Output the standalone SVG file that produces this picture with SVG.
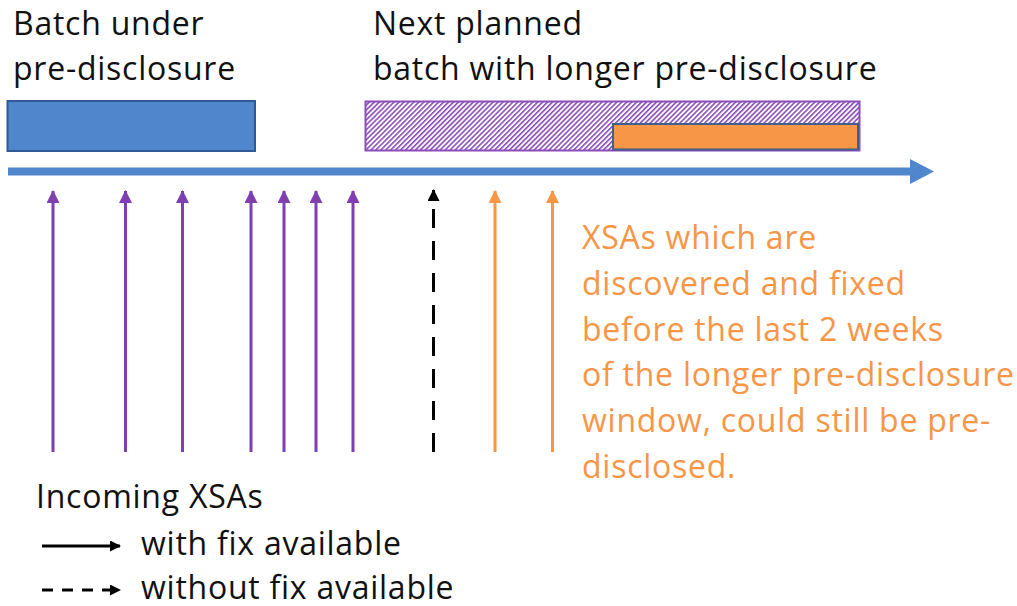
<svg xmlns="http://www.w3.org/2000/svg" width="1017" height="606" viewBox="0 0 1017 606">
  <style>
    text { font-family: "Open Sans", "Liberation Sans", sans-serif; font-size: 32px; letter-spacing: 0.75px; }
    .dark { fill: #111111; }
    .note { fill: #F79646; }
    .xsa { stroke-width: 3; fill: none; }
    .purple { stroke: #7F3FB0; }
    .orange { stroke: #F79646; }
    .black { stroke: #000000; }
  </style>
  <defs>
    <pattern id="hatch" patternUnits="userSpaceOnUse" width="3.5" height="3.5" patternTransform="rotate(45)">
      <rect width="3.5" height="3.5" fill="#FFFFFF"/>
      <rect x="0" y="0" width="1.6" height="3.5" fill="#8B4DB8"/>
    </pattern>
    <marker id="headPurple" markerUnits="userSpaceOnUse" markerWidth="13" markerHeight="13" refX="6.5" refY="1" viewBox="0 0 13 13">
      <path d="M0,13 L6.5,0 L13,13 Z" fill="#7F3FB0"/>
    </marker>
    <marker id="headOrange" markerUnits="userSpaceOnUse" markerWidth="13" markerHeight="13" refX="6.5" refY="1" viewBox="0 0 13 13">
      <path d="M0,13 L6.5,0 L13,13 Z" fill="#F79646"/>
    </marker>
    <marker id="headBlack" markerUnits="userSpaceOnUse" markerWidth="12" markerHeight="12" refX="6" refY="1" viewBox="0 0 12 12">
      <path d="M0,12 L6,0 L12,12 Z" fill="#000000"/>
    </marker>
    <marker id="headLegend" markerUnits="userSpaceOnUse" markerWidth="11" markerHeight="11" refX="10" refY="5.5" orient="auto" viewBox="0 0 11 11">
      <path d="M0,0 L11,5.5 L0,11 Z" fill="#000000"/>
    </marker>
  </defs>

  <!-- current batch under pre-disclosure -->
  <g id="batch-current">
    <rect x="7.5" y="101" width="247.5" height="50" fill="#4F86CC" stroke="#2F5A98" stroke-width="2"/>
    <text class="dark" x="13" y="35">Batch under</text>
    <text class="dark" x="13" y="80">pre-disclosure</text>
  </g>

  <!-- next batch with the longer window -->
  <g id="batch-next">
    <rect x="365.5" y="101.5" width="494" height="49" fill="url(#hatch)" stroke="#8B4DB8" stroke-width="2"/>
    <text class="dark" x="373" y="35">Next planned</text>
    <text class="dark" x="373" y="80">batch with longer pre-disclosure</text>
  </g>

  <!-- last two weeks of the longer window -->
  <g id="final-window">
    <rect x="613" y="124" width="245" height="25.5" fill="#F79646" stroke="#3F5F8F" stroke-width="2"/>
  </g>

  <!-- time axis -->
  <g id="timeline">
    <path d="M8,167.5 H910 V159 L934,171.5 L910,184 V175.5 H8 Z" fill="#4F86CC"/>
  </g>

  <!-- incoming XSAs -->
  <g id="connectors">
    <line class="xsa purple" x1="53" y1="452" x2="53" y2="191" marker-end="url(#headPurple)"/>
    <line class="xsa purple" x1="125.5" y1="452" x2="125.5" y2="191" marker-end="url(#headPurple)"/>
    <line class="xsa purple" x1="182.5" y1="452" x2="182.5" y2="191" marker-end="url(#headPurple)"/>
    <line class="xsa purple" x1="251" y1="452" x2="251" y2="191" marker-end="url(#headPurple)"/>
    <line class="xsa purple" x1="284" y1="452" x2="284" y2="191" marker-end="url(#headPurple)"/>
    <line class="xsa purple" x1="316" y1="452" x2="316" y2="191" marker-end="url(#headPurple)"/>
    <line class="xsa purple" x1="353" y1="452" x2="353" y2="191" marker-end="url(#headPurple)"/>
    <line class="xsa black" x1="433.5" y1="452" x2="433.5" y2="190" stroke-dasharray="19 13" marker-end="url(#headBlack)"/>
    <line class="xsa orange" x1="495" y1="452" x2="495" y2="191" marker-end="url(#headOrange)"/>
    <line class="xsa orange" x1="552.5" y1="452" x2="552.5" y2="191" marker-end="url(#headOrange)"/>
  </g>

  <!-- explanatory note -->
  <g id="note">
    <text class="note" x="582" y="249">XSAs which are</text>
    <text class="note" x="582" y="295">discovered and fixed</text>
    <text class="note" x="582" y="341">before the last 2 weeks</text>
    <text class="note" x="582" y="386">of the longer pre-disclosure</text>
    <text class="note" x="582" y="432">window, could still be pre-</text>
    <text class="note" x="582" y="478">disclosed.</text>
  </g>

  <!-- legend -->
  <g id="legend">
    <text class="dark" x="36" y="508">Incoming XSAs</text>
    <line x1="42" y1="546" x2="120" y2="546" stroke="#000000" stroke-width="3" marker-end="url(#headLegend)"/>
    <text class="dark" x="141" y="555">with fix available</text>
    <line x1="42" y1="590" x2="120" y2="590" stroke="#000000" stroke-width="3" stroke-dasharray="11 9" marker-end="url(#headLegend)"/>
    <text class="dark" x="141" y="599">without fix available</text>
  </g>
</svg>
